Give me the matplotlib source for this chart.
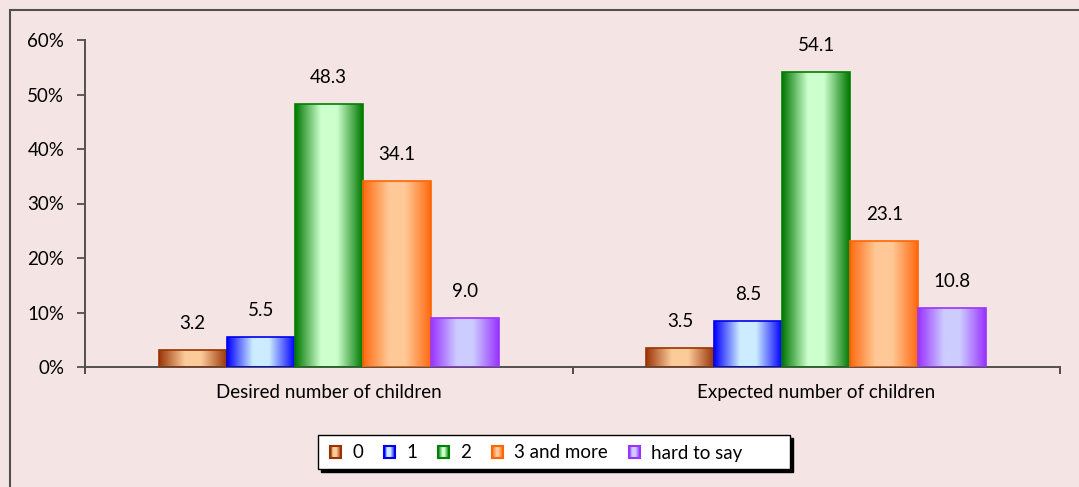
import numpy as np
import matplotlib
matplotlib.use("Agg")
import matplotlib.pyplot as plt
from matplotlib.colors import LinearSegmentedColormap
from matplotlib.patches import Rectangle
from matplotlib.legend_handler import HandlerBase

categories = ["Desired number of children", "Expected number of children"]
series = ["0", "1", "2", "3 and more", "hard to say"]
values = {
    "0": [3.2, 3.5],
    "1": [5.5, 8.5],
    "2": [48.3, 54.1],
    "3 and more": [34.1, 23.1],
    "hard to say": [9.0, 10.8],
}
yticks = [0, 10, 20, 30, 40, 50, 60]
ytick_labels = ["0%", "10%", "20%", "30%", "40%", "50%", "60%"]

dark = ["#9A3608", "#0000FF", "#007800", "#FF6A10", "#9933FF"]
light = ["#FCCB9A", "#CCECFF", "#CCFFCC", "#FFC896", "#CCCCFF"]
edge = ["#993300", "#0000EE", "#008000", "#FF6600", "#9933FF"]

bg = "#F5E4E4"
FS = 13.5
plt.rcParams['font.family'] = ['Lato', 'DejaVu Sans']

W, H = 1079, 487
fig = plt.figure(figsize=(W / 100, H / 100), dpi=100, facecolor=bg)
ax = fig.add_axes([85 / W, (H - 367) / H, (1060 - 85) / W, (367 - 40) / H])
ax.set_facecolor(bg)

cmaps = [LinearSegmentedColormap.from_list(
    f"g{i}", [(0, dark[i]), (0.38, light[i]), (0.62, light[i]), (1, dark[i])])
    for i in range(len(series))]

x = np.arange(len(categories))
w = 68 / 487.5
grad = np.linspace(0, 1, 256).reshape(1, -1)

for i, s in enumerate(series):
    pos = x + (i - 2) * w
    bars = ax.bar(pos, values[s], width=w, facecolor="none", edgecolor=edge[i],
                  linewidth=1.2, zorder=3)
    for b, v in zip(bars, values[s]):
        x0 = b.get_x()
        im = ax.imshow(grad, cmap=cmaps[i], aspect="auto",
                       extent=(x0, x0 + w, 0, v), zorder=2, interpolation="bilinear")
        im.set_clip_path(b)
        ax.annotate(f"{v:.1f}", (x0 + w / 2, v), xytext=(0, 13), textcoords="offset points",
                    ha="center", va="bottom", fontsize=FS, color="black")

ax.set_xlim(-0.5, 1.5)
ax.set_ylim(0, 60)
ax.set_yticks(yticks)
ax.set_yticklabels(ytick_labels, fontsize=FS)
ax.set_xticks([-0.5, 0.5, 1.5])
ax.set_xticklabels([])
ax.set_xticks(x, minor=True)
ax.set_xticklabels(categories, minor=True, fontsize=FS)
ax.tick_params(axis="x", which="minor", length=0, pad=12)
ax.tick_params(axis="x", which="major", length=5, width=1.3, color="#404040", direction="out")
ax.tick_params(axis="y", length=6, width=1.3, color="#505050", pad=9)
for sp in ["top", "right"]:
    ax.spines[sp].set_visible(False)
for sp in ["left", "bottom"]:
    ax.spines[sp].set_color("#505050")
    ax.spines[sp].set_linewidth(1.4)


class GradHandler(HandlerBase):
    def __init__(self, idx):
        super().__init__()
        self.idx = idx

    def create_artists(self, legend, orig_handle, xdescent, ydescent, width, height, fontsize, trans):
        i = self.idx
        size = min(width, height)
        x0 = -xdescent + (width - size) / 2
        y0 = -ydescent + (height - size) / 2
        arts = []
        n = 12
        for k in range(n):
            c = cmaps[i]((k + 0.5) / n)
            arts.append(Rectangle((x0 + k * size / n, y0), size / n + 0.05, size,
                                  facecolor=c, edgecolor="none", transform=trans))
        arts.append(Rectangle((x0, y0), size, size, facecolor="none",
                              edgecolor=edge[i], linewidth=1.5, transform=trans))
        return arts


# legend box with shadow
bx0, bx1, by0, by1 = 318, 790, 435, 469
fig.patches.append(Rectangle((bx0 / W + 3 / W, 1 - by1 / H - 3 / H), (bx1 - bx0) / W, (by1 - by0) / H,
                             transform=fig.transFigure, facecolor="black", edgecolor="black",
                             linewidth=1.0, zorder=5))
fig.patches.append(Rectangle((bx0 / W, 1 - by1 / H), (bx1 - bx0) / W, (by1 - by0) / H,
                             transform=fig.transFigure, facecolor="white", edgecolor="black",
                             linewidth=1.0, zorder=6))

handles = [Rectangle((0, 0), 1, 1) for _ in series]
leg = fig.legend(handles, series, loc="center", bbox_to_anchor=(536 / W, 1 - 453 / H),
                 ncol=5, frameon=False, fontsize=FS,
                 handler_map={h: GradHandler(i) for i, h in enumerate(handles)},
                 handlelength=0.6, handleheight=0.6, handletextpad=0.6,
                 columnspacing=1.1, borderpad=0.3)
leg.set_zorder(7)

fig.patches.append(Rectangle((10 / W, -0.1), 1.2, 1 - 10 / H + 0.1, transform=fig.transFigure,
                             facecolor="none", edgecolor="#505050", linewidth=1.5))

fig.savefig("out.png", dpi=100, facecolor=bg)
